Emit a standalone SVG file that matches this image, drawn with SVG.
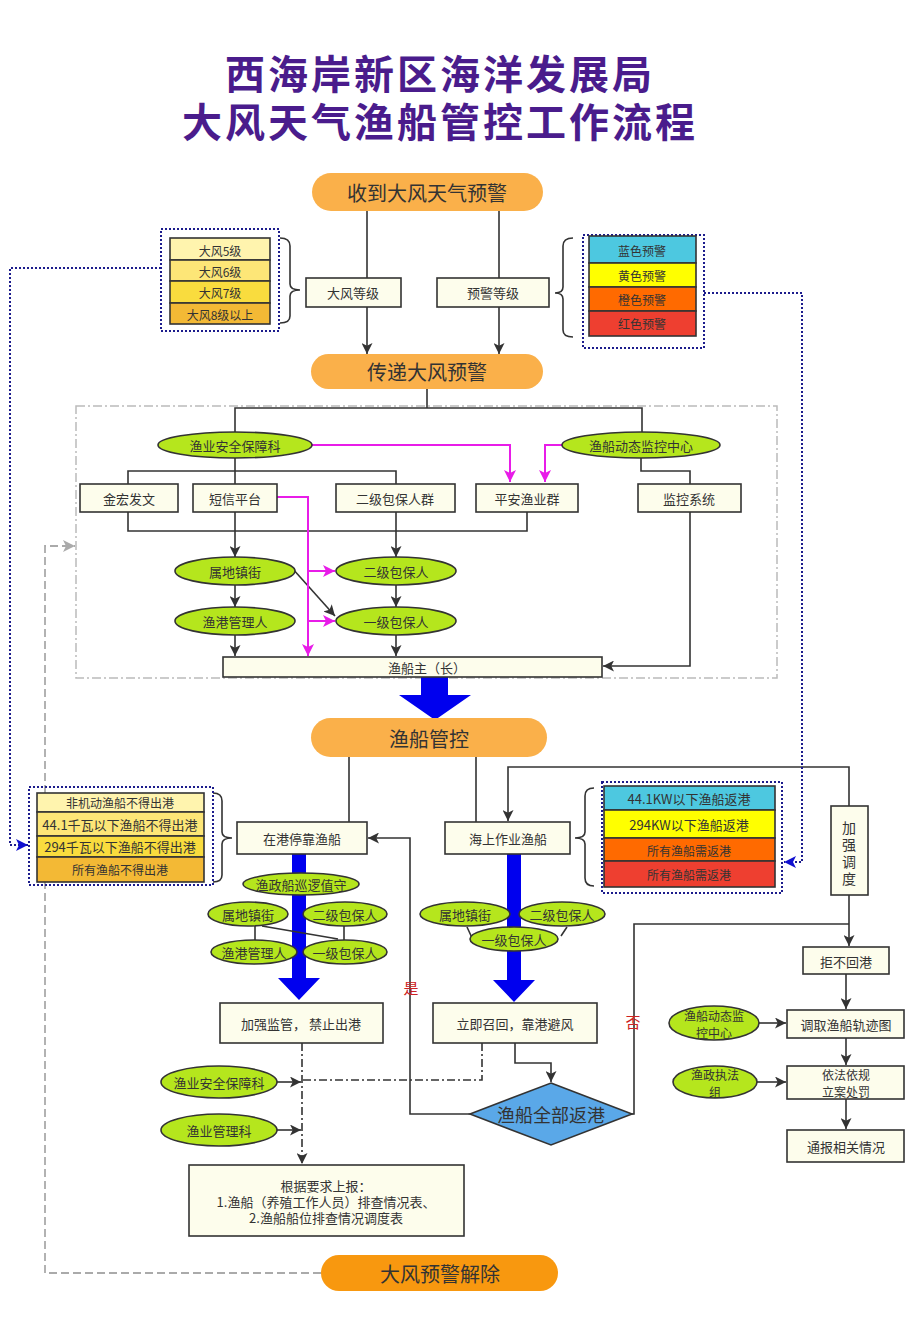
<svg xmlns="http://www.w3.org/2000/svg" width="910" height="1324" viewBox="0 0 910 1324">
<defs>
<style>
text{font-family:"Noto Sans CJK SC","Noto Sans",sans-serif;fill:#333;dominant-baseline:central;text-anchor:middle;font-size:13px}
.title{font-size:40px;font-weight:bold;fill:#4A1C8C;letter-spacing:3px}
.pill{fill:#FAB04A;stroke:none}
.pilltx{font-size:20px}
.box{fill:#FDFDEC;stroke:#333;stroke-width:1.6}
.ell{fill:#B5E61D;stroke:#333;stroke-width:1.6}
.row{stroke:#333;stroke-width:1.6}
.ln{fill:none;stroke:#333;stroke-width:1.6}
.mag{fill:none;stroke:#E81CE8;stroke-width:2}
.dot{fill:none;stroke:#1C1C8C;stroke-width:2;stroke-dasharray:2,2}
.gd{fill:none;stroke:#AAA;stroke-width:1.8;stroke-dasharray:8,4}
.dd{fill:none;stroke:#333;stroke-width:1.6;stroke-dasharray:8,3,2,3}
.sm{font-size:12px}
.two{font-size:12px}
.vt{font-size:14px}
.red{fill:#CC2222;font-size:15px}
.dia{font-size:18px}
</style>
<marker id="ak" viewBox="0 0 10 10" refX="10" refY="5" markerWidth="11" markerHeight="11" markerUnits="userSpaceOnUse" orient="auto"><path d="M0,0L10,5L0,10L2.5,5z" fill="#333"/></marker>
<marker id="am" viewBox="0 0 10 10" refX="10" refY="5" markerWidth="12" markerHeight="12" markerUnits="userSpaceOnUse" orient="auto"><path d="M0,0L10,5L0,10L2.5,5z" fill="#E81CE8"/></marker>
<marker id="ab" viewBox="0 0 10 10" refX="10" refY="5" markerWidth="12" markerHeight="12" markerUnits="userSpaceOnUse" orient="auto"><path d="M0,0L10,5L0,10L2.5,5z" fill="#1010D0"/></marker>
<marker id="ag" viewBox="0 0 10 10" refX="10" refY="5" markerWidth="12" markerHeight="12" markerUnits="userSpaceOnUse" orient="auto"><path d="M0,0L10,5L0,10L2.5,5z" fill="#AAA"/></marker>
</defs>
<rect width="910" height="1324" fill="#fff"/>

<g id="title">
<text class="title" x="440" y="72">西海岸新区海洋发展局</text>
<text class="title" x="440" y="120">大风天气渔船管控工作流程</text>
</g>

<g id="frame">
<rect x="76" y="406" width="701" height="272" fill="none" stroke="#BBB" stroke-width="1.5" stroke-dasharray="9,3,2,3"/>
</g>

<g id="connectors">
<path class="ln" d="M367,211V278M499,211V278"/>
<path class="ln" d="M367,307V354" marker-end="url(#ak)"/>
<path class="ln" d="M499,307V354" marker-end="url(#ak)"/>
<path class="ln" d="M427,389V408M235,432V408H642V432"/>
<path class="ln" d="M235,458V484M128,484V471H396V484"/>
<path class="ln" d="M128,512V531H527V512"/>
<path class="ln" d="M235,512V557" marker-end="url(#ak)"/>
<path class="ln" d="M396,512V557" marker-end="url(#ak)"/>
<path class="ln" d="M235,585V607" marker-end="url(#ak)"/>
<path class="ln" d="M396,585V607" marker-end="url(#ak)"/>
<path class="ln" d="M292,568L335,616" marker-end="url(#ak)"/>
<path class="ln" d="M235,635V656" marker-end="url(#ak)"/>
<path class="ln" d="M396,635V656" marker-end="url(#ak)"/>
<path class="ln" d="M641,458V471H690V484"/>
<path class="ln" d="M690,512V666H603" marker-end="url(#ak)"/>
<path class="mag" d="M312,445H510V482" marker-end="url(#am)"/>
<path class="mag" d="M562,445H545V482" marker-end="url(#am)"/>
<path class="mag" d="M277,497H308V656" marker-end="url(#am)"/>
<path class="mag" d="M308,571H335" marker-end="url(#am)"/>
<path class="mag" d="M308,621H335" marker-end="url(#am)"/>
<polygon points="421,677 448,677 448,695 471,695 435,720 399,695 421,695" fill="#0000EE"/>
<path class="ln" d="M349,757V822M476,757V822"/>
<path class="ln" d="M849,806V767H508V821" marker-end="url(#ak)"/>
<path class="ln" d="M849,895V946" marker-end="url(#ak)"/>
<path class="ln" d="M632,1114H634V924H849"/>
<path class="ln" d="M846,974V1009" marker-end="url(#ak)"/>
<path class="ln" d="M846,1038V1065" marker-end="url(#ak)"/>
<path class="ln" d="M846,1099V1129" marker-end="url(#ak)"/>
<path class="ln" d="M759,1023H786" marker-end="url(#ak)"/>
<path class="ln" d="M757,1082H786" marker-end="url(#ak)"/>
<path class="ln" d="M515,1043V1063H551V1082" marker-end="url(#ak)"/>
<path class="ln" d="M470,1114H410V838H368" marker-end="url(#ak)"/>
<path class="dd" d="M302,1043V1164" marker-end="url(#ak)"/>
<path class="dd" d="M482,1043V1080H302"/>
<path class="ln" d="M277,1082H301" marker-end="url(#ak)"/>
<path class="ln" d="M277,1130H301" marker-end="url(#ak)"/>
<path class="gd" d="M321,1273H45V546H75" marker-end="url(#ag)"/>
<path class="dot" d="M161,268H10V845H28" marker-end="url(#ab)"/>
<path class="dot" d="M704,293H802V862H784" marker-end="url(#ab)"/>
<polygon points="292,854 306,854 306,978 320,978 299,1000 278,978 292,978" fill="#0000EE"/>
<polygon points="507,854 521,854 521,980 535,980 514,1002 493,980 507,980" fill="#0000EE"/>
<path class="ln" d="M255,926V940M344,926V940M262,926L338,939"/>
<path class="ln" d="M467,927L473,940M567,927L561,936"/>
<path class="ln" d="M280,238Q290,238 290,246V284Q290,290 300,290Q290,290 290,296V316Q290,323 280,323"/>
<path class="ln" d="M573,238Q563,238 563,246V287Q563,293 555,293Q563,293 563,299V330Q563,337 573,337"/>
<path class="ln" d="M213,793Q222,793 222,801V832Q222,838 232,838Q222,838 222,844V875Q222,882 213,882"/>
<path class="ln" d="M594,788Q585,788 585,796V832Q585,838 575,838Q585,838 585,844V878Q585,886 594,886"/>
</g>

<g id="n-start"><rect class="pill" x="312" y="173" width="231" height="38" rx="19"/><text class="pilltx" x="427" y="192">收到大风天气预警</text></g>
<g id="n-windlevel"><rect class="box" x="306" y="278" width="95" height="29"/><text x="353" y="292">大风等级</text></g>
<g id="n-warnlevel"><rect class="box" x="437" y="278" width="112" height="29"/><text x="493" y="292">预警等级</text></g>

<g id="n-windlist">
<rect x="161" y="229" width="118" height="102" fill="none" stroke="#1C1C8C" stroke-width="2" stroke-dasharray="2,2"/>
<rect class="row" x="170" y="238" width="100" height="22" fill="#FFF4AE"/>
<rect class="row" x="170" y="260" width="100" height="21" fill="#FDE677"/>
<rect class="row" x="170" y="281" width="100" height="22" fill="#F9DC3E"/>
<rect class="row" x="170" y="303" width="100" height="21" fill="#F3B935"/>
<text class="sm" x="220" y="250">大风5级</text>
<text class="sm" x="220" y="271">大风6级</text>
<text class="sm" x="220" y="292">大风7级</text>
<text class="sm" x="220" y="314">大风8级以上</text>
</g>

<g id="n-warnlist">
<rect x="583" y="235" width="121" height="113" fill="none" stroke="#1C1C8C" stroke-width="2" stroke-dasharray="2,2"/>
<rect class="row" x="589" y="236" width="107" height="27" fill="#4DC8E0"/>
<rect class="row" x="589" y="263" width="107" height="24" fill="#FFFF00"/>
<rect class="row" x="589" y="287" width="107" height="24" fill="#FF6A00"/>
<rect class="row" x="589" y="311" width="107" height="25" fill="#EE3F30"/>
<text class="sm" x="642" y="250">蓝色预警</text>
<text class="sm" x="642" y="275">黄色预警</text>
<text class="sm" x="642" y="299">橙色预警</text>
<text class="sm" x="642" y="323">红色预警</text>
</g>

<g id="n-pass"><rect class="pill" x="311" y="354" width="232" height="35" rx="17.5"/><text class="pilltx" x="427" y="371">传递大风预警</text></g>

<g id="n-safety"><ellipse class="ell" cx="235" cy="445" rx="77" ry="13"/><text x="235" y="445">渔业安全保障科</text></g>
<g id="n-monitor"><ellipse class="ell" cx="641" cy="445" rx="79" ry="13"/><text x="641" y="445">渔船动态监控中心</text></g>
<g id="n-jinhong"><rect class="box" x="80" y="484" width="98" height="28"/><text x="129" y="498">金宏发文</text></g>
<g id="n-sms"><rect class="box" x="193" y="484" width="84" height="28"/><text x="235" y="498">短信平台</text></g>
<g id="n-group2"><rect class="box" x="336" y="484" width="119" height="28"/><text x="395" y="498">二级包保人群</text></g>
<g id="n-pingan"><rect class="box" x="476" y="484" width="102" height="28"/><text x="527" y="498">平安渔业群</text></g>
<g id="n-monsys"><rect class="box" x="638" y="484" width="103" height="28"/><text x="689" y="498">监控系统</text></g>
<g id="n-town"><ellipse class="ell" cx="235" cy="571" rx="60" ry="14"/><text x="235" y="571">属地镇街</text></g>
<g id="n-g2"><ellipse class="ell" cx="396" cy="571" rx="60" ry="14"/><text x="396" y="571">二级包保人</text></g>
<g id="n-port"><ellipse class="ell" cx="235" cy="621" rx="60" ry="14"/><text x="235" y="621">渔港管理人</text></g>
<g id="n-g1"><ellipse class="ell" cx="396" cy="621" rx="60" ry="14"/><text x="396" y="621">一级包保人</text></g>
<g id="n-owner"><rect class="box" x="223" y="657" width="379" height="20"/><text x="427" y="667">渔船主（长）</text></g>

<g id="n-control"><rect class="pill" x="311" y="718" width="236" height="39" rx="19.5"/><text class="pilltx" x="429" y="738">渔船管控</text></g>

<g id="n-inport"><rect class="box" x="237" y="822" width="130" height="32"/><text x="302" y="838">在港停靠渔船</text></g>
<g id="n-atsea"><rect class="box" x="445" y="822" width="125" height="32"/><text x="508" y="838">海上作业渔船</text></g>

<g id="n-portlist">
<rect x="29" y="787" width="184" height="98" fill="none" stroke="#1C1C8C" stroke-width="2" stroke-dasharray="2,2"/>
<rect class="row" x="37" y="793" width="167" height="19" fill="#FFF4AE"/>
<rect class="row" x="37" y="812" width="167" height="24" fill="#FDE677"/>
<rect class="row" x="37" y="836" width="167" height="21" fill="#F9DC3E"/>
<rect class="row" x="37" y="857" width="167" height="25" fill="#F3B935"/>
<text class="sm" x="120" y="802">非机动渔船不得出港</text>
<text x="120" y="824">44.1千瓦以下渔船不得出港</text>
<text x="120" y="846">294千瓦以下渔船不得出港</text>
<text class="sm" x="120" y="869">所有渔船不得出港</text>
</g>

<g id="n-sealist">
<rect x="602" y="782" width="180" height="111" fill="none" stroke="#1C1C8C" stroke-width="2" stroke-dasharray="2,2"/>
<rect class="row" x="604" y="786" width="171" height="24" fill="#4DC8E0"/>
<rect class="row" x="604" y="810" width="171" height="28" fill="#FFFF00"/>
<rect class="row" x="604" y="838" width="171" height="23" fill="#FF6A00"/>
<rect class="row" x="604" y="861" width="171" height="26" fill="#EE3F30"/>
<text x="689" y="798">44.1KW以下渔船返港</text>
<text x="689" y="824">294KW以下渔船返港</text>
<text class="sm" x="689" y="850">所有渔船需返港</text>
<text class="sm" x="689" y="874">所有渔船需返港</text>
</g>

<g id="n-dispatch"><rect class="box" x="831" y="806" width="37" height="89"/>
<text class="vt" x="849" y="827">加</text><text class="vt" x="849" y="844">强</text><text class="vt" x="849" y="861">调</text><text class="vt" x="849" y="878">度</text></g>

<g id="n-patrol"><ellipse class="ell" cx="301" cy="884" rx="58" ry="11"/><text x="301" y="884">渔政船巡逻值守</text></g>
<g id="n-l-town"><ellipse class="ell" cx="248" cy="914" rx="40" ry="12"/><text x="248" y="914">属地镇街</text></g>
<g id="n-l-g2"><ellipse class="ell" cx="345" cy="914" rx="42" ry="12"/><text x="345" y="914">二级包保人</text></g>
<g id="n-l-port"><ellipse class="ell" cx="254" cy="952" rx="43" ry="12"/><text x="254" y="952">渔港管理人</text></g>
<g id="n-l-g1"><ellipse class="ell" cx="345" cy="952" rx="42" ry="12"/><text x="345" y="952">一级包保人</text></g>
<g id="n-r-town"><ellipse class="ell" cx="465" cy="914" rx="45" ry="12"/><text x="465" y="914">属地镇街</text></g>
<g id="n-r-g2"><ellipse class="ell" cx="562" cy="914" rx="43" ry="12"/><text x="562" y="914">二级包保人</text></g>
<g id="n-r-g1"><ellipse class="ell" cx="514" cy="939" rx="44" ry="12"/><text x="514" y="939">一级包保人</text></g>

<g id="n-refuse"><rect class="box" x="803" y="947" width="86" height="27"/><text x="846" y="961">拒不回港</text></g>
<g id="n-track"><rect class="box" x="787" y="1010" width="117" height="28"/><text x="846" y="1024">调取渔船轨迹图</text></g>
<g id="n-punish"><rect class="box" x="787" y="1066" width="117" height="33"/><text class="two" x="846" y="1074">依法依规</text><text class="two" x="846" y="1091">立案处罚</text></g>
<g id="n-report2"><rect class="box" x="787" y="1130" width="117" height="32"/><text x="846" y="1146">通报相关情况</text></g>
<g id="n-monitor2"><ellipse class="ell" cx="714" cy="1023" rx="45" ry="17"/><text class="two" x="714" y="1015">渔船动态监</text><text class="two" x="714" y="1032">控中心</text></g>
<g id="n-enforce"><ellipse class="ell" cx="715" cy="1082" rx="42" ry="16"/><text class="two" x="715" y="1074">渔政执法</text><text class="two" x="715" y="1091">组</text></g>

<g id="n-strict"><rect class="box" x="220" y="1003" width="163" height="40"/><text x="301" y="1023">加强监管， 禁止出港</text></g>
<g id="n-recall"><rect class="box" x="433" y="1003" width="164" height="40"/><text x="515" y="1023">立即召回，靠港避风</text></g>
<g id="n-allback"><polygon points="551,1083 632,1114 551,1145 470,1114" fill="#5AA8E8" stroke="#333" stroke-width="1.6"/><text class="dia" x="551" y="1114">渔船全部返港</text></g>
<text class="red" x="411" y="987">是</text>
<text class="red" x="633" y="1021">否</text>

<g id="n-safety2"><ellipse class="ell" cx="219" cy="1082" rx="58" ry="16"/><text x="219" y="1082">渔业安全保障科</text></g>
<g id="n-mgmt"><ellipse class="ell" cx="219" cy="1130" rx="58" ry="16"/><text x="219" y="1130">渔业管理科</text></g>
<g id="n-report"><rect class="box" x="189" y="1165" width="275" height="71"/>
<text x="326" y="1185">根据要求上报：</text>
<text x="326" y="1201">1.渔船（养殖工作人员）排查情况表、</text>
<text x="326" y="1217">2.渔船船位排查情况调度表</text></g>

<g id="n-end"><rect x="321" y="1255" width="237" height="36" rx="18" fill="#F8980F"/><text class="pilltx" x="440" y="1273">大风预警解除</text></g>
</svg>
